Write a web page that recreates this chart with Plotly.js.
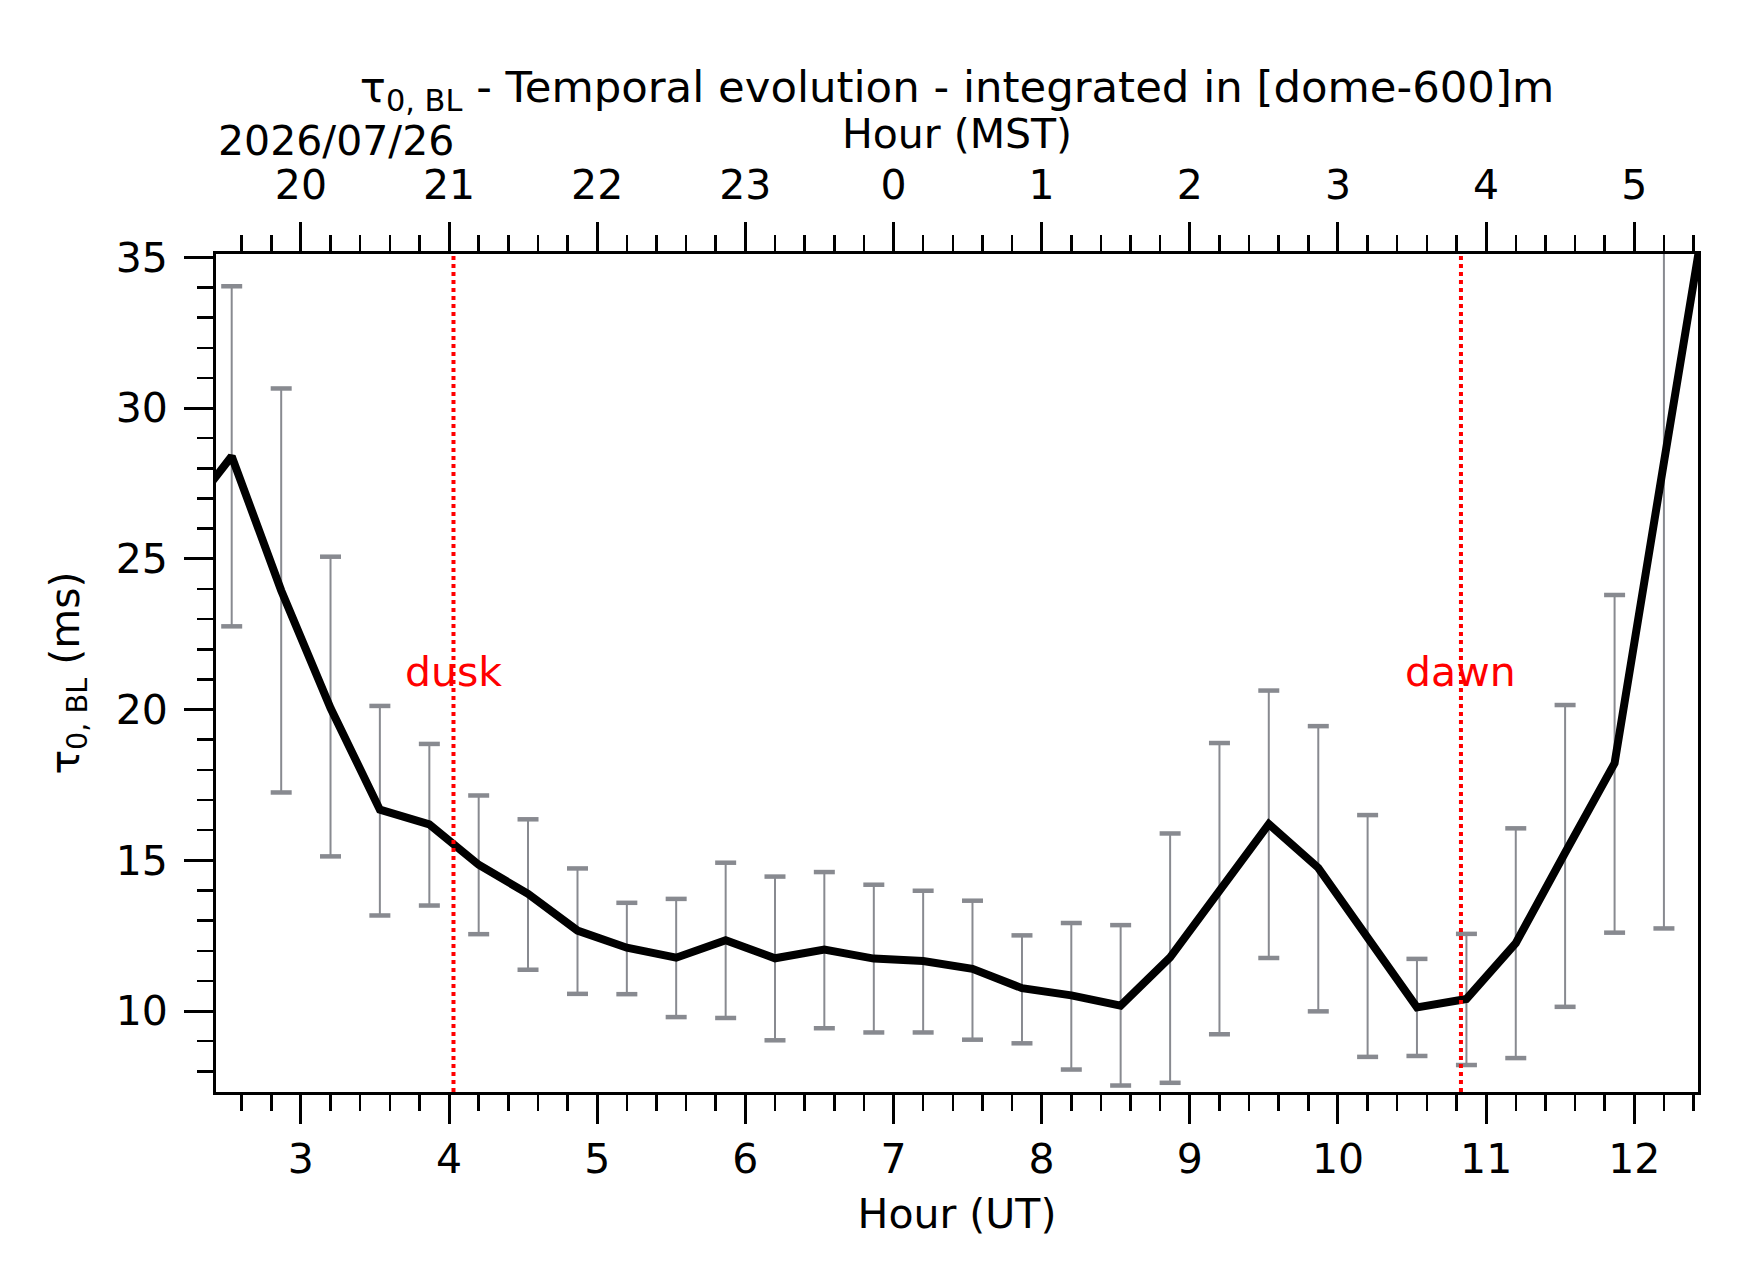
<!DOCTYPE html>
<html>
<head>
<meta charset="utf-8">
<script src="https://cdn.plot.ly/plotly-3.0.1.min.js"></script>
<style>
  html, body { margin: 0; padding: 0; background: #fff; }
  #chart { width: 1742px; height: 1282px; }
</style>
</head>
<body>
<div id="chart"></div>
<script>
// hour (UT) of each sample, 20 min apart
var hoursUT = [2.200, 2.533, 2.867, 3.200, 3.533, 3.867, 4.200, 4.533, 4.867, 5.200,
               5.533, 5.867, 6.200, 6.533, 6.867, 7.200, 7.533, 7.867, 8.200, 8.533,
               8.867, 9.200, 9.533, 9.867, 10.200, 10.533, 10.867, 11.200, 11.533, 11.867,
               12.200, 12.533];
// tau0 boundary layer (ms)
var tauBL = [26.3, 28.40, 23.95, 20.05, 16.68, 16.19, 14.85, 13.89, 12.67, 12.10,
             11.77, 12.35, 11.75, 12.04, 11.74, 11.66, 11.40, 10.76, 10.52, 10.18,
             11.78, 14.02, 16.20, 14.75, 12.45, 10.12, 10.40, 12.25, 15.25, 18.22,
             28.2, 38.1];
// error bar ends (ms), null where no bar
var tauUpper = [null, 34.04, 30.65, 25.07, 20.12, 18.86, 17.15, 16.36, 14.73, 13.59,
                13.72, 14.92, 14.46, 14.61, 14.19, 13.99, 13.66, 12.51, 12.92, 12.85,
                15.89, 18.89, 20.63, 19.45, 16.50, 11.73, 12.56, 16.06, 20.15, 23.80,
                37.5, null];
var tauLower = [null, 22.76, 17.25, 15.13, 13.17, 13.50, 12.55, 11.37, 10.57, 10.56,
                9.80, 9.77, 9.03, 9.43, 9.29, 9.29, 9.05, 8.93, 8.06, 7.53,
                7.62, 9.23, 11.76, 9.99, 8.48, 8.51, 8.21, 8.44, 10.14, 12.60,
                12.74, null];

// top axis: local time (MST = UT - 7)
var mstTickPos = [3, 4, 5, 6, 7, 8, 9, 10, 11, 12];
var mstTickText = ['20', '21', '22', '23', '0', '1', '2', '3', '4', '5'];

var duskUT = 4.03;
var dawnUT = 10.83;

var xRange = [2.427, 12.43];
var yRange = [7.315, 35.11];

var FONT = 'DejaVu Sans, Liberation Sans, sans-serif';
var GREY = '#888a90';

var errPlus = [], errMinus = [];
for (var i = 0; i < hoursUT.length; i++) {
  errPlus.push(tauUpper[i] === null ? 0 : tauUpper[i] - tauBL[i]);
  errMinus.push(tauLower[i] === null ? 0 : tauBL[i] - tauLower[i]);
}

var traces = [
  { // vertical part of the error bars
    x: hoursUT, y: tauBL, type: 'scatter', mode: 'markers',
    marker: {size: 1, opacity: 0},
    error_y: {type: 'data', symmetric: false, array: errPlus, arrayminus: errMinus,
              color: GREY, thickness: 2, width: 0},
    hoverinfo: 'skip', showlegend: false
  },
  { // caps
    x: hoursUT.concat(hoursUT), y: tauUpper.concat(tauLower), type: 'scatter', mode: 'markers',
    marker: {symbol: 'line-ew', size: 15, line: {width: 4.5, color: GREY}},
    hoverinfo: 'skip', showlegend: false
  },
  {
    x: hoursUT, y: tauBL, type: 'scatter', mode: 'lines',
    line: {color: '#000', width: 8},
    showlegend: false
  },
  { // only here so the top axis gets drawn
    x: mstTickPos, y: mstTickPos.map(function () { return null; }),
    xaxis: 'x2', type: 'scatter', mode: 'markers', hoverinfo: 'skip', showlegend: false
  }
];

var tickFont = {family: FONT, size: 41, color: '#000'};

var layout = {
  width: 1742, height: 1282,
  margin: {l: 216, r: 44, t: 254, b: 190},
  paper_bgcolor: '#fff', plot_bgcolor: '#fff',
  font: {family: FONT, size: 41, color: '#000'},
  title: {
    text: 'τ<sub>0, BL</sub> - Temporal evolution - integrated in [dome-600]m',
    font: {family: FONT, size: 43.4, color: '#000'},
    x: 0.5, xref: 'paper', xanchor: 'center',
    y: 1 - 87 / 1282, yref: 'container', yanchor: 'middle'
  },
  xaxis: {
    range: xRange, showgrid: false, zeroline: false,
    showline: true, linecolor: '#000', linewidth: 3, mirror: true,
    tickmode: 'linear', tick0: 0, dtick: 1,
    ticks: 'outside', ticklen: 29, tickwidth: 3, tickcolor: '#000',
    minor: {tick0: 0, dtick: 0.2, ticks: 'outside', ticklen: 16, tickwidth: 2.5, tickcolor: '#000'},
    tickfont: tickFont,
    title: {text: 'Hour (UT)', font: tickFont, standoff: 18}
  },
  xaxis2: {
    overlaying: 'x', side: 'top', anchor: 'y', matches: 'x',
    range: xRange, showgrid: false, zeroline: false,
    showline: true, linecolor: '#000', linewidth: 3,
    tickmode: 'array', tickvals: mstTickPos, ticktext: mstTickText,
    ticks: 'outside', ticklen: 29, tickwidth: 3, tickcolor: '#000',
    ticklabelstandoff: 7,
    minor: {tickmode: 'linear', tick0: 0, dtick: 0.2, ticks: 'outside', ticklen: 16, tickwidth: 2.5, tickcolor: '#000'},
    tickfont: tickFont,
    title: {text: 'Hour (MST)', font: tickFont, standoff: 0}
  },
  yaxis: {
    range: yRange, showgrid: false, zeroline: false,
    showline: true, linecolor: '#000', linewidth: 3, mirror: true,
    tickmode: 'linear', tick0: 0, dtick: 5,
    ticks: 'outside', ticklen: 29, tickwidth: 3, tickcolor: '#000',
    ticklabelstandoff: 8,
    minor: {tick0: 0, dtick: 1, ticks: 'outside', ticklen: 16, tickwidth: 2.5, tickcolor: '#000'},
    tickfont: tickFont,
    title: {text: 'τ<sub>0, BL</sub> (ms)', font: tickFont, standoff: 24}
  },
  shapes: [
    {type: 'line', xref: 'x', yref: 'paper', x0: duskUT, x1: duskUT, y0: 0, y1: 1,
     line: {color: '#ff0000', width: 4, dash: '4px,4px'}},
    {type: 'line', xref: 'x', yref: 'paper', x0: dawnUT, x1: dawnUT, y0: 0, y1: 1,
     line: {color: '#ff0000', width: 4, dash: '4px,4px'}}
  ],
  annotations: [
    {text: 'dusk', x: duskUT, y: 21.25, xref: 'x', yref: 'y', showarrow: false,
     xanchor: 'center', yanchor: 'middle', font: {family: FONT, size: 41, color: '#ff0000'}},
    {text: 'dawn', x: dawnUT, y: 21.25, xref: 'x', yref: 'y', showarrow: false,
     xanchor: 'center', yanchor: 'middle', font: {family: FONT, size: 41, color: '#ff0000'}},
    {text: '2026/07/26', x: 0, y: 1.1348, xref: 'paper', yref: 'paper', showarrow: false,
     xanchor: 'left', yanchor: 'middle', font: tickFont}
  ]
};

Plotly.newPlot('chart', traces, layout, {displayModeBar: false, staticPlot: true});
</script>
</body>
</html>
